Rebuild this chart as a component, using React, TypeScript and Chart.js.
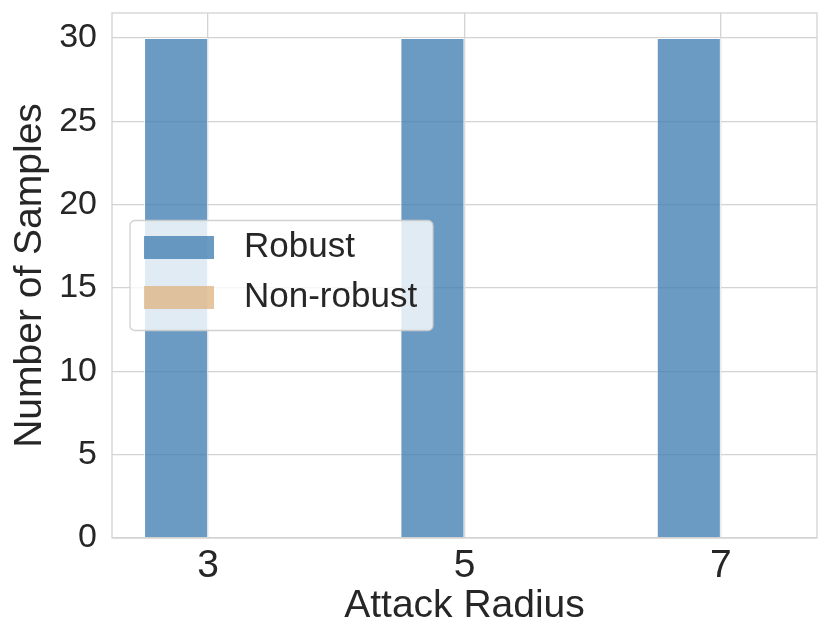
import React, { useEffect, useRef } from "react";
import { Chart, registerables } from "chart.js";

Chart.register(...registerables);

const categories = ["3", "5", "7"];
const robustCounts = [30, 30, 30];
const nonRobustCounts = [0, 0, 0];
const seriesLabels = ["Robust", "Non-robust"];
const yTickValues = [0, 5, 10, 15, 20, 25, 30];
const xLabel = "Attack Radius";
const yLabel = "Number of Samples";

const FONT = "'Liberation Sans', Arial, Helvetica, sans-serif";
const TEXT = "#262626";
const GRID = "#d3d3d3";

const framePlugin = {
  id: "frame",
  afterDatasetsDraw(chart: any) {
    const { ctx, chartArea: a } = chart;
    ctx.save();
    ctx.strokeStyle = GRID;
    ctx.lineWidth = 1.3;
    ctx.strokeRect(a.left, a.top, a.right - a.left, a.bottom - a.top);
    ctx.restore();
  },
};

const legendPlugin = {
  id: "insideLegend",
  afterDraw(chart: any) {
    const { ctx, chartArea: a } = chart;
    const ds = chart.data.datasets;
    const boxW = 303;
    const boxH = 110;
    const boxX = a.left + 18;
    const boxY = (a.top + a.bottom) / 2 - boxH / 2;
    ctx.save();
    ctx.beginPath();
    if (ctx.roundRect) ctx.roundRect(boxX, boxY, boxW, boxH, 5);
    else ctx.rect(boxX, boxY, boxW, boxH);
    ctx.fillStyle = "rgba(255,255,255,0.8)";
    ctx.fill();
    ctx.strokeStyle = "rgba(204,204,204,0.9)";
    ctx.lineWidth = 1.3;
    ctx.stroke();
    ctx.font = `35px ${FONT}`;
    ctx.textBaseline = "middle";
    ctx.textAlign = "left";
    ds.forEach((d: any, i: number) => {
      const cy = boxY + 27 + i * 50;
      ctx.fillStyle = d.backgroundColor;
      ctx.fillRect(boxX + 14, cy - 11.5, 70, 23);
      ctx.fillStyle = TEXT;
      ctx.fillText(d.label, boxX + 114, cy);
    });
    ctx.restore();
  },
};

export default function App() {
  const canvasRef = useRef<HTMLCanvasElement | null>(null);

  useEffect(() => {
    const canvas = canvasRef.current;
    if (!canvas) return;
    const chart = new Chart(canvas, {
      type: "bar",
      data: {
        datasets: [
          {
            label: seriesLabels[0],
            data: categories.map((_, i) => ({ x: i, y: robustCounts[i] })),
            backgroundColor: "rgba(70,130,180,0.8)",
            borderColor: "rgba(255,255,255,0.75)",
            borderWidth: 1,
            categoryPercentage: 0.5,
            barPercentage: 1,
          },
          {
            label: seriesLabels[1],
            data: categories.map((_, i) => ({ x: i, y: nonRobustCounts[i] })),
            backgroundColor: "rgba(222,184,135,0.8)",
            borderWidth: 0,
            categoryPercentage: 0.5,
            barPercentage: 1,
          },
        ],
      } as any,
      options: {
        animation: false,
        responsive: false,
        layout: { padding: { top: 13, right: 14, left: 0, bottom: 0 } },
        plugins: {
          legend: { display: false },
          tooltip: { enabled: false },
        },
        scales: {
          x: {
            type: "linear",
            min: -0.375,
            max: 2.375,
            offset: false,
            afterBuildTicks: (s: any) => {
              s.ticks = categories.map((_, i) => ({ value: i }));
            },
            afterFit: (s: any) => {
              s.height = 100;
              s.paddingLeft = 0;
              s.paddingRight = 0;
            },
            ticks: {
              callback: (_v: any, idx: number) => categories[idx] ?? "",
              font: { family: FONT, size: 39 },
              color: TEXT,
              padding: 5,
              maxRotation: 0,
              autoSkip: false,
            },
            grid: { color: GRID, lineWidth: 1.3, drawTicks: false, offset: false },
            border: { display: false },
            title: {
              display: true,
              text: xLabel,
              font: { family: FONT, size: 39 },
              color: TEXT,
              padding: { top: 0, bottom: 8 },
            },
          },
          y: {
            min: 0,
            max: 31.5,
            afterBuildTicks: (s: any) => {
              s.ticks = yTickValues.map((v) => ({ value: v }));
            },
            afterFit: (s: any) => {
              s.width = 112;
              s.paddingTop = 0;
              s.paddingBottom = 0;
            },
            ticks: {
              font: { family: FONT, size: 34 },
              color: TEXT,
              padding: 15,
            },
            grid: { color: GRID, lineWidth: 1.3, drawTicks: false },
            border: { display: false },
            title: {
              display: true,
              text: yLabel,
              font: { family: FONT, size: 39 },
              color: TEXT,
              padding: { top: 7, bottom: 0 },
            },
          },
        },
      } as any,
      plugins: [framePlugin, legendPlugin],
    });
    return () => chart.destroy();
  }, []);

  return (
    <div style={{ position: "absolute", left: 0, top: 0, width: 831, height: 638, background: "#ffffff" }}>
      <canvas ref={canvasRef} width={831} height={638} style={{ display: "block" }} />
    </div>
  );
}
